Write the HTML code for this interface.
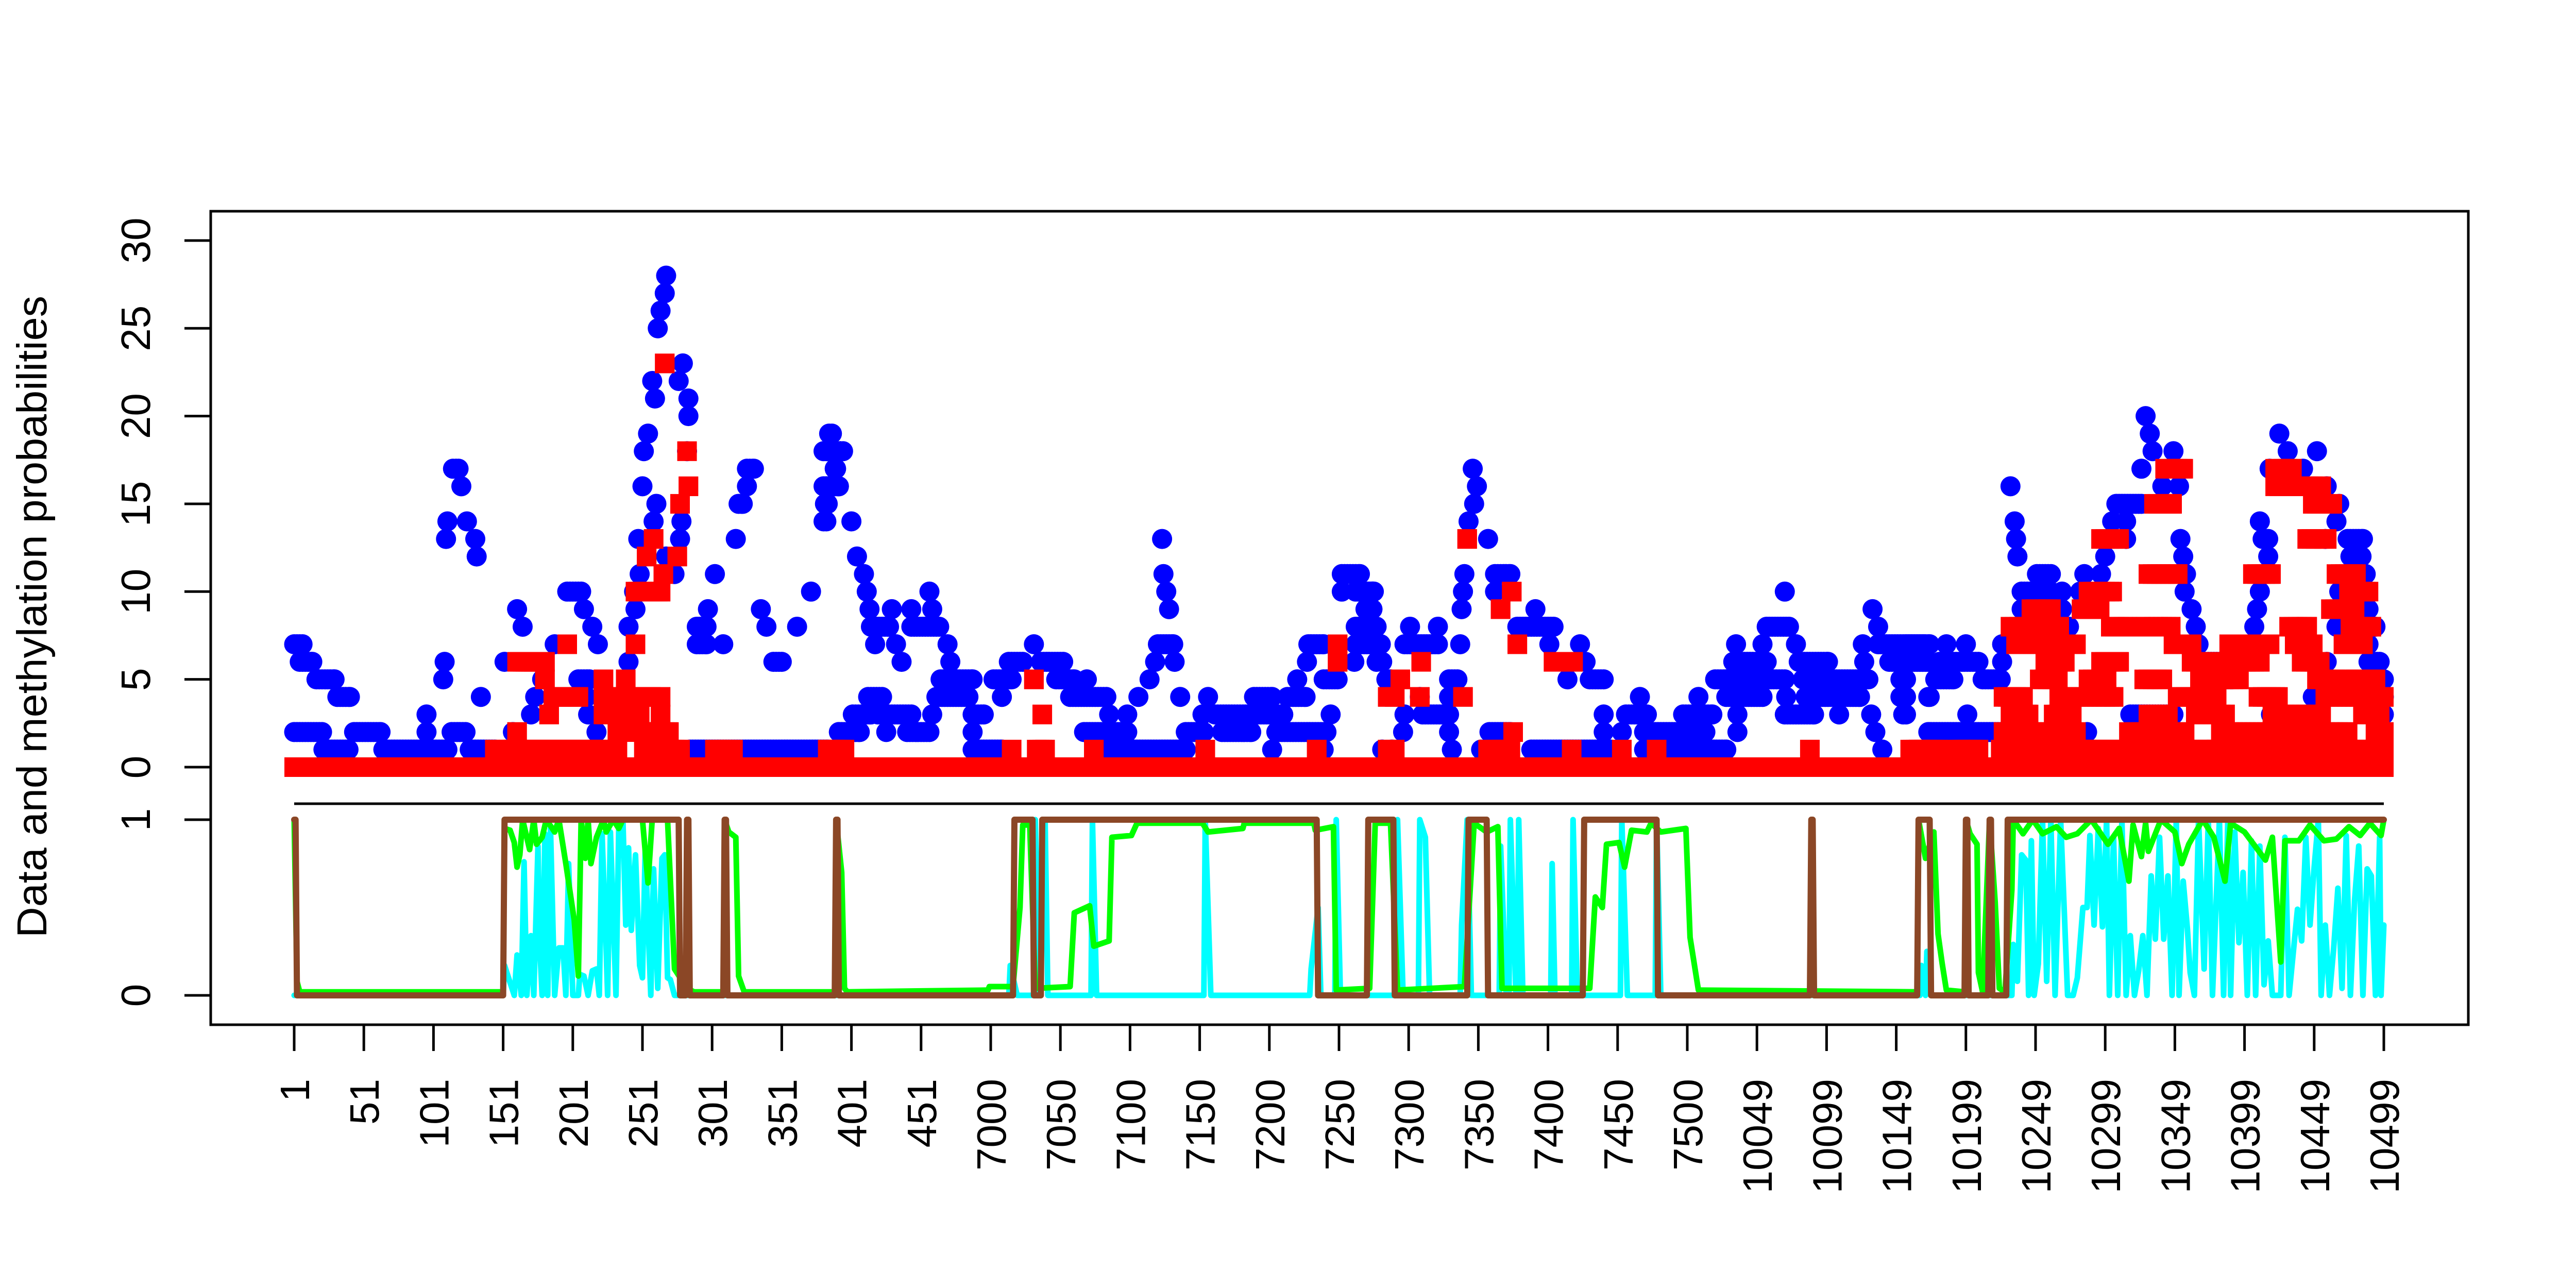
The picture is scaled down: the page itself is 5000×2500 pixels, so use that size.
<!DOCTYPE html>
<html><head><meta charset="utf-8"><style>
html,body{margin:0;padding:0;background:#fff;}
svg{display:block;}
text{font-family:"Liberation Sans",Arial,sans-serif;fill:#000;}
</style></head><body>
<svg id="chart" xmlns="http://www.w3.org/2000/svg" width="5000" height="2500" viewBox="0 0 5000 2500">
<rect x="0" y="0" width="5000" height="2500" fill="#fff"/>
<g id="axes"></g>
<g id="blue"></g>
<g id="red"></g>
<g id="lines"></g>
<rect x="409" y="410" width="4382" height="1579" fill="none" stroke="#000" stroke-width="5"/>
<text transform="translate(90,1197) rotate(-90)" text-anchor="middle" font-size="82" textLength="1246" lengthAdjust="spacingAndGlyphs">Data and methylation probabilities</text>
</svg>
<script>
// ---- data ----
const tickLabels = ["1","51","101","151","201","251","301","351","401","451","7000","7050","7100","7150","7200","7250","7300","7350","7400","7450","7500","10049","10099","10149","10199","10249","10299","10349","10399","10449","10499"];
const yTicksTop = [0,5,10,15,20,25,30];
const yTicksBottom = [0,1];
// blue data: runs [startPos, endPos, value]
const blueRuns = [
[0,6,7],[4,13,6],[16,29,5],[31,40,4],[0,20,2],[21,39,1],[43,62,2],[64,110,1],[95,95,3],[95,95,2],[107,107,5],[108,108,6],[109,109,13],[110,110,14],[114,118,17],[120,120,16],[124,124,14],[130,130,13],[131,131,12],[113,123,2],[126,144,1],[134,134,4],[151,151,6],[157,157,2],[160,160,9],[164,164,8],[170,170,3],[173,173,4],[178,178,5],[187,187,7],[196,206,10],[208,208,9],[214,214,8],[218,218,7],[204,212,5],[210,210,4],[211,211,3],[217,217,2],[240,240,6],[240,240,8],[245,245,9],[244,244,10],[248,248,11],[247,247,13],[250,250,16],[251,251,18],[254,254,19],[258,258,14],[260,260,15],[257,257,22],[259,259,21],[261,261,25],[263,263,26],[266,266,27],[267,267,28],[267,267,12],[273,273,11],[276,276,22],[277,277,13],[278,278,14],[279,279,23],[282,282,18],[283,283,20],[283,283,21],[289,296,8],[289,296,7],[297,297,9],[302,302,11],[308,308,7],[317,317,13],[319,322,15],[325,325,16],[325,330,17],[335,335,9],[339,339,8],[344,350,6],[361,361,8],[371,371,10],[380,380,14],[381,381,15],[382,382,16],[383,383,18],[386,386,19],[389,389,17],[391,391,16],[392,392,18],[284,383,1],[391,391,2],
[384,384,19],[380,394,18],[388,388,17],[380,391,16],[383,383,15],[382,382,14],[400,400,14],[404,404,12],[409,409,11],[411,411,10],[413,413,9],[414,427,8],[417,417,7],[429,429,9],[432,432,7],[436,436,6],[443,443,9],[443,463,8],[456,456,10],[458,458,9],[469,469,7],[471,471,6],[464,487,5],[461,484,4],[487,495,3],[487,487,2],[487,508,1],[391,406,2],[401,414,3],[412,422,4],[425,425,2],[419,443,3],[440,456,2],[458,458,3],[502,515,5],[508,508,4],[513,523,6],[531,531,7],[536,552,6],[547,560,5],[569,569,5],[557,583,4],[585,585,3],[598,598,3],[567,598,2],[583,640,1],[606,606,4],[614,614,5],[618,618,6],[620,631,7],[632,632,6],[628,628,9],[626,626,10],[624,624,11],[623,623,13],[636,636,4],[640,653,2],[652,652,3],[656,656,4],[661,689,3],[666,687,2],[689,702,4],[692,710,3],[702,702,1],[713,726,4],[705,741,2],[720,720,5],[727,727,6],[728,739,7],[739,749,5],[744,744,3],[752,752,10],[752,765,11],[762,775,10],[774,774,9],[762,777,8],[762,780,7],[761,761,6],[777,777,6],[784,784,5],[739,739,1],[781,781,1],
[769,774,10],[769,774,9],[769,776,8],[774,779,7],[781,781,6],[787,787,5],[797,797,3],[796,796,2],[788,788,1],[801,801,8],[797,821,7],[821,821,8],[808,808,4],[810,829,3],[829,835,5],[829,829,4],[829,829,2],[831,831,1],[837,837,7],[838,838,9],[839,839,10],[840,840,11],[843,843,14],[847,847,15],[849,849,16],[846,846,17],[857,857,13],[862,873,11],[862,862,10],[858,873,2],[852,852,1],[891,891,9],[878,904,8],[901,901,7],[923,923,7],[927,927,6],[914,914,5],[930,940,5],[940,940,3],[940,940,2],[888,945,1],[956,971,3],[966,966,4],[953,953,2],[969,1013,2],[969,1028,1],[997,1018,3],[1008,1008,4],[1020,1028,5],[1033,1033,6],[1035,1035,7],[1036,1036,3],[1036,1036,2],[1028,1054,4],[1028,1070,5],[1039,1057,6],[1054,1054,7],[1057,1073,8],[1070,1070,10],[1071,1071,4],[1078,1078,7],[1070,1091,3],[1080,1101,6],[1083,1130,5],[1085,1124,4],[1109,1109,3],[1126,1126,7],[1127,1127,6],[1133,1133,9],[1137,1137,8],[1132,1132,3],[1135,1135,2],[1140,1140,1],[1137,1174,7],[1145,1174,6],[1153,1153,5],[1153,1153,4],[1155,1155,3],[1174,1174,4],[1174,1174,2],
[1157,1170,7],[1157,1172,6],[1157,1157,5],[1157,1157,4],[1157,1157,3],[1173,1173,4],[1178,1191,5],[1181,1209,6],[1186,1186,7],[1200,1200,7],[1212,1225,5],[1226,1226,6],[1226,1226,7],[1201,1201,3],[1173,1225,2],[1232,1232,16],[1235,1235,14],[1236,1236,13],[1237,1237,12],[1240,1261,10],[1251,1261,11],[1240,1240,9],[1248,1248,8],[1269,1269,10],[1269,1269,9],[1274,1274,8],[1282,1282,10],[1285,1285,11],[1297,1297,11],[1300,1300,12],[1302,1302,13],[1305,1305,14],[1308,1326,15],[1315,1315,14],[1315,1315,13],[1287,1287,2],[1318,1349,3],[1326,1326,17],[1329,1329,20],[1332,1332,19],[1334,1334,18],[1349,1349,18],[1341,1341,16],[1353,1353,16],[1354,1354,13],[1356,1356,12],[1358,1358,11],[1357,1357,10],[1362,1362,9],[1365,1365,8],[1367,1367,7],[1370,1396,6],[1372,1391,5],[1372,1372,4],[1383,1383,3],[1411,1411,14],[1413,1417,13],[1417,1417,12],[1411,1411,10],[1409,1409,9],[1407,1407,8],[1418,1418,17],[1425,1425,19],[1431,1431,18],[1442,1442,17],[1452,1452,18],[1459,1459,16],[1468,1468,15],[1466,1466,14],[1458,1458,13],[1474,1485,13],[1476,1484,12],[1487,1487,11],[1489,1489,9],[1494,1494,8],[1489,1489,7],[1489,1497,6],[1500,1500,5],[1500,1500,4],[1500,1500,3],[1466,1466,8],[1468,1468,10],[1459,1459,6],[1449,1449,4],[1419,1419,3],[1422,1422,1]
];
// red methylation: non-zero runs [startPos, endPos, value]; all other positions are 0
const redRuns = [
[144,232,1],[251,277,1],[302,315,1],[383,395,1],[160,160,2],[232,269,2],[183,183,3],[222,248,3],[263,263,3],[186,204,4],[222,256,4],[263,263,4],[180,180,5],[222,222,5],[238,238,5],[160,180,6],[196,196,7],[245,245,7],[245,263,10],[265,265,11],[253,253,12],[275,275,12],[258,258,13],[277,277,15],[283,283,16],[282,282,18],[266,266,23],
[388,388,1],[515,515,1],[533,539,1],[574,574,1],[654,654,1],[734,734,1],[785,785,1],[537,537,3],[531,531,5],[749,749,7],[749,749,6],[785,785,4],
[790,790,1],[857,873,1],[917,917,1],[953,953,1],[978,978,1],[1088,1088,1],[1166,1166,1],[875,875,2],[790,790,4],[808,808,4],[839,839,4],[794,794,5],[809,809,6],[904,904,6],[918,918,6],[878,878,7],[866,866,9],[874,874,10],[842,842,13],
[1160,1180,1],[1193,1209,1],[1225,1334,1],[1336,1380,1],[1380,1422,1],[1436,1500,1],
[1227,1279,2],[1317,1357,2],[1383,1474,2],[1494,1500,2],
[1232,1245,3],[1263,1276,3],[1331,1345,3],[1365,1386,3],[1420,1455,3],[1485,1497,3],
[1227,1241,4],[1267,1306,4],[1352,1365,4],[1367,1380,4],[1410,1424,4],[1458,1500,4],
[1253,1266,5],[1288,1301,5],[1328,1341,5],[1368,1396,5],[1452,1465,5],[1474,1494,5],
[1257,1271,6],[1297,1310,6],[1362,1387,6],[1398,1411,6],[1441,1454,6],
[1236,1253,7],[1265,1279,7],[1349,1362,7],[1389,1418,7],[1436,1449,7],[1471,1485,7],
[1232,1247,8],[1253,1267,8],[1304,1318,8],[1326,1347,8],[1432,1445,8],[1476,1491,8],
[1247,1261,9],[1283,1296,9],[1462,1479,9],
[1288,1305,10],[1475,1489,10],
[1331,1352,11],[1406,1419,11],[1466,1480,11],
[1297,1310,13],[1445,1459,13],
[1335,1348,15],[1449,1463,15],
[1422,1455,16],
[1343,1356,17],[1422,1434,17]
];
// state (brown): intervals where state = 1
const stateOn = [[0,1],[151,276],[282,283],[309,310],[389,390],[517,530],[537,734],[771,789],[843,856],[926,978],[1089,1090],[1166,1174],[1200,1201],[1217,1218],[1230,1500]];
// green probability: [pos, value]
const greenPts = [[0,1],[2,0.08],[4,0.02],[150,0.02],[151,0.95],[155,0.94],[158,0.87],[160,0.73],[162,0.8],[164,1],[169,0.83],[172,1],[174,0.86],[178,0.9],[181,1],[187,0.93],[190,1],[195,0.75],[201,0.43],[204,0.11],[206,1],[209,0.78],[211,1],[213,0.75],[217,0.9],[222,1],[224,0.93],[229,1],[233,0.95],[236,1],[250,1],[254,0.64],[257,1],[268,1],[273,0.15],[282,0.04],[287,0.02],[308,0.02],[309,1],[312,0.93],[317,0.9],[319,0.11],[323,0.02],[388,0.02],[389,1],[393,0.7],[395,0.04],[397,0.02],[498,0.03],[499,0.05],[516,0.05],[521,0.5],[523,0.97],[528,0.97],[532,0.04],[557,0.05],[560,0.47],[571,0.51],[574,0.28],[585,0.31],[587,0.9],[601,0.91],[605,0.98],[652,0.98],[656,0.93],[681,0.95],[682,0.98],[732,0.98],[733,0.94],[746,0.96],[748,0.03],[772,0.04],[776,0.98],[787,0.98],[792,0.03],[840,0.05],[847,0.98],[856,0.93],[864,0.96],[867,0.04],[930,0.04],[934,0.56],[939,0.5],[942,0.86],[951,0.87],[955,0.73],[960,0.94],[971,0.93],[974,0.98],[981,0.93],[999,0.95],[1002,0.33],[1008,0.03],[1165,0.02],[1166,1],[1171,0.78],[1177,0.93],[1180,0.35],[1183,0.18],[1186,0.03],[1199,0.02],[1200,1],[1203,0.92],[1208,0.86],[1209,0.13],[1212,0.02],[1217,1],[1221,0.53],[1224,0.04],[1228,0.02],[1233,0.6],[1234,1],[1241,0.92],[1248,1],[1255,0.92],[1265,0.96],[1272,0.9],[1280,0.92],[1290,1],[1302,0.86],[1310,0.95],[1317,0.65],[1320,0.97],[1326,0.79],[1329,0.98],[1331,0.82],[1340,1],[1350,0.93],[1355,0.75],[1360,0.86],[1370,1],[1378,0.9],[1386,0.65],[1390,0.98],[1400,0.93],[1415,0.77],[1420,0.9],[1426,0.19],[1429,0.88],[1439,0.88],[1447,0.97],[1457,0.88],[1466,0.89],[1475,0.96],[1483,0.91],[1490,0.98],[1498,0.91],[1500,1]];
// cyan probability: [pos, value]
const cyanPts = [[0,0],[150,0],[151,0.17],[158,0],[160,0.23],[163,0],[165,0.76],[167,0],[170,0.34],[172,0],[175,0.85],[176,0.33],[178,0],[180,0.92],[182,0],[184,0.95],[187,0],[190,0.27],[193,0.27],[195,0],[197,0.75],[200,0],[204,0],[205,0.12],[208,0.11],[211,0],[214,0.14],[217,0.15],[219,0],[221,0.92],[224,0.25],[225,0],[227,0.93],[231,0],[233,0.95],[236,1],[238,0.4],[240,0.84],[242,0.37],[245,0.8],[248,0.17],[250,0.1],[252,0.84],[256,0],[258,0.72],[261,0.04],[264,0.78],[266,0.8],[268,0.1],[270,0.09],[273,0],[513,0],[514,0.17],[519,0],[531,0],[532,1],[535,0],[539,1],[541,0],[572,0],[573,1],[576,0],[653,0],[654,1],[658,0],[729,0],[730,0.15],[735,0.5],[737,0],[747,0],[748,1],[751,0],[791,0],[792,1],[796,0],[807,0],[808,1],[812,0.9],[815,0],[837,0],[838,0.4],[842,1],[845,0],[865,0],[866,0.85],[870,0],[872,0],[873,1],[877,0],[878,0],[879,1],[882,0],[902,0],[903,0.75],[905,0],[917,0],[918,1],[921,0],[952,0],[953,1],[957,0],[977,0],[978,1],[981,0],[1167,0],[1168,0.17],[1171,0],[1172,0.25],[1175,0],[1233,0],[1234,0.29],[1237,0.08],[1240,0.8],[1243,0.77],[1245,0],[1247,0.88],[1249,0],[1252,0.18],[1255,1],[1258,0.08],[1261,1],[1264,0],[1268,1],[1273,0],[1277,0],[1280,0.1],[1284,0.5],[1287,0.5],[1289,0.91],[1292,0.4],[1295,0.95],[1298,0.39],[1301,1],[1303,0],[1306,0.9],[1309,0],[1312,1],[1315,0],[1318,0.34],[1321,0],[1324,0.14],[1327,0.34],[1330,0],[1333,0.68],[1336,0.32],[1339,0.9],[1342,0.32],[1345,0.68],[1348,0],[1351,1],[1353,0],[1356,0.65],[1359,0.38],[1361,0.13],[1364,0],[1367,1],[1371,0.15],[1374,1],[1377,0],[1382,1],[1385,0],[1388,1],[1390,0],[1393,0.93],[1396,0.3],[1399,0.7],[1402,0],[1405,0.88],[1408,0],[1411,0.85],[1414,0.06],[1417,0.31],[1420,0],[1426,0],[1429,0.9],[1432,0],[1438,0.49],[1441,0.31],[1444,0.9],[1447,0.4],[1450,0.73],[1453,1],[1455,0],[1458,0.4],[1461,0],[1464,0.27],[1467,0.61],[1470,0.04],[1473,0.91],[1476,0],[1479,0.54],[1482,0.85],[1485,0],[1488,0.72],[1491,0.68],[1494,0],[1497,0.9],[1498,0],[1500,0.4]];
const nPos = 1501;

// ---- scales ----
const NS = "http://www.w3.org/2000/svg";
function xs(p){ return 571 + p * (4627 - 571) / 1500; }
function yTop(v){ return 1489 - v * 34.07; }
function yBot(v){ return 1932 - v * 341; }
function mk(tag, attrs, parent){ const e = document.createElementNS(NS, tag); for (const k in attrs) e.setAttribute(k, attrs[k]); parent.appendChild(e); return e; }

const axes = document.getElementById('axes');
yTicksTop.forEach(v => {
  const y = yTop(v);
  const t = mk('line', {x1:358, x2:409, y1:y, y2:y, stroke:'#000', 'stroke-width':5}, axes);
  
  
  const l = mk('text', {transform:`translate(291,${y}) rotate(-90)`, 'text-anchor':'middle', 'font-size':80}, axes);
  l.textContent = String(v);
  
  
});
yTicksBottom.forEach(v => {
  const y = yBot(v);
  const t = mk('line', {x1:358, x2:409, y1:y, y2:y, stroke:'#000', 'stroke-width':5}, axes);
  
  
  const l = mk('text', {transform:`translate(291,${y}) rotate(-90)`, 'text-anchor':'middle', 'font-size':80}, axes);
  l.textContent = String(v);
  
  
});
tickLabels.forEach((lab, i) => {
  const x = xs(i * 50);
  const t = mk('line', {x1:x, x2:x, y1:1989, y2:2040, stroke:'#000', 'stroke-width':5}, axes);
  
  
  const l = mk('text', {transform:`translate(${x + 29},2094) rotate(-90)`, 'text-anchor':'end', 'font-size':80}, axes);
  l.textContent = lab;
  
  
});
const sep = mk('line', {x1:xs(0), x2:xs(1500), y1:1560, y2:1560, stroke:'#000', 'stroke-width':5}, axes);



// blue points
const blueG = document.getElementById('blue');
blueRuns.forEach(r => {
  for (let p = r[0]; p <= r[1]; p += 2) {
    const c = mk('circle', {cx:xs(p), cy:yTop(r[2]), r:19.5, fill:'#0000FF'}, blueG);
    
    
  }
  if ((r[1] - r[0]) % 2 === 1) {
    const c = mk('circle', {cx:xs(r[1]), cy:yTop(r[2]), r:19.5, fill:'#0000FF'}, blueG);
    
    
  }
});
// red points
const redG = document.getElementById('red');
for (let p = 0; p < nPos; p += 2) {
  const s = mk('rect', {x:xs(p) - 19, y:yTop(0) - 19, width:38, height:38, fill:'#FF0000'}, redG);
  
  
}
redRuns.forEach(r => {
  const step = (r[0] >= 1157 && r[2] > 1) ? 3 : 2;
  for (let p = r[0]; p <= r[1]; p += step) {
    const s = mk('rect', {x:xs(p) - 19, y:yTop(r[2]) - 19, width:38, height:38, fill:'#FF0000'}, redG);
    
    
  }
  const s = mk('rect', {x:xs(r[1]) - 19, y:yTop(r[2]) - 19, width:38, height:38, fill:'#FF0000'}, redG);
  
  
});

// lines
const linesG = document.getElementById('lines');
function ptsStr(arr){ return arr.map(d => xs(d[0]).toFixed(1) + ',' + yBot(d[1]).toFixed(1)).join(' '); }
const cy = mk('polyline', {points:ptsStr(cyanPts), fill:'none', stroke:'#00FFFF', 'stroke-width':11, 'stroke-linejoin':'round', 'stroke-linecap':'round'}, linesG);


const gr = mk('polyline', {points:ptsStr(greenPts), fill:'none', stroke:'#00FF00', 'stroke-width':11, 'stroke-linejoin':'round', 'stroke-linecap':'round'}, linesG);


const stateVals = new Array(nPos).fill(0);
stateOn.forEach(s => { for (let p = s[0]; p <= s[1]; p++) stateVals[p] = 1; });
const brownPts = [];
for (let p = 0; p < nPos; p++) {
  if (p === 0 || p === nPos - 1 || stateVals[p] !== stateVals[p - 1] || stateVals[p] !== stateVals[p + 1]) brownPts.push([p, stateVals[p]]);
}
const br = mk('polyline', {points:ptsStr(brownPts), fill:'none', stroke:'#8B4726', 'stroke-width':12, 'stroke-linejoin':'round', 'stroke-linecap':'round'}, linesG);


</script>
</body></html>
